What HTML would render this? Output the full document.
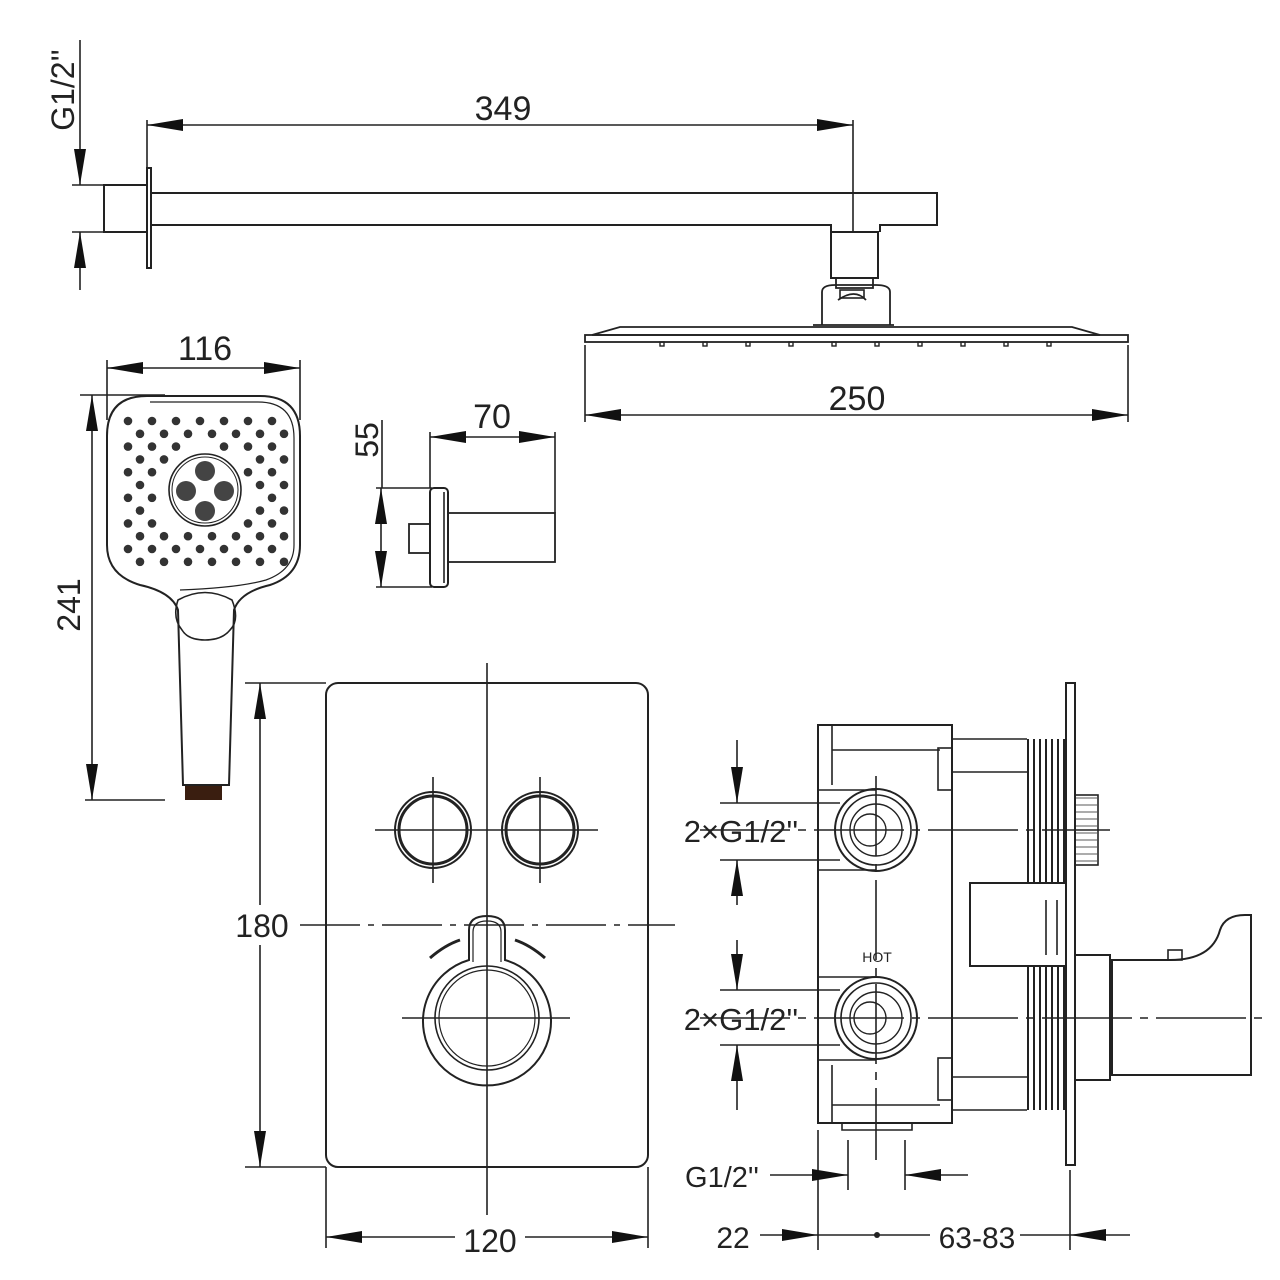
<!DOCTYPE html>
<html><head><meta charset="utf-8"><style>
html,body{margin:0;padding:0;background:#fff;}
svg{display:block;}
text{font-family:"Liberation Sans",sans-serif;fill:#222;}
</style></head><body>
<svg id="s" width="1280" height="1280" viewBox="0 0 1280 1280" xmlns="http://www.w3.org/2000/svg">
<defs>
<marker id="a" viewBox="0 0 36 12" refX="36" refY="6" markerWidth="36" markerHeight="12" markerUnits="userSpaceOnUse" orient="auto-start-reverse"><path d="M0,0 L36,6 L0,12 Z" fill="#111"/></marker>
</defs>
<g stroke="#222" stroke-width="1.6" fill="none">
<line x1="80" y1="40" x2="80" y2="185" marker-end="url(#a)"/>
<line x1="80" y1="290" x2="80" y2="232" marker-end="url(#a)"/>
<line x1="72" y1="185" x2="104" y2="185"/><line x1="72" y1="232" x2="104" y2="232"/>
<rect x="104" y="185" width="43" height="47" stroke-width="2"/>
<rect x="147" y="168" width="4" height="100" stroke-width="2"/>
<path d="M151,193 H937 V225 H880 V232 M831,232 V225 H151" stroke-width="2"/>
<rect x="831" y="232" width="47" height="46" stroke-width="2"/>
<path d="M836,278 V288 H873 V278 M822,325 V292 Q822,285 835,285 H876 Q890,285 890,292 V325 M838,300 Q855,288 866,300" stroke-width="1.8"/>
<rect x="840" y="290" width="24" height="8"/>
<path d="M813,325 H894 M620,327 H1072 L1100,335 H592 Z" stroke-width="1.8"/>
<rect x="585" y="335" width="543" height="7" stroke-width="1.8"/>
<line x1="147" y1="125" x2="853" y2="125" marker-start="url(#a)" marker-end="url(#a)"/>
<line x1="853" y1="120" x2="853" y2="232"/>
<line x1="147" y1="120" x2="147" y2="168"/>
<line x1="585" y1="345" x2="585" y2="422"/><line x1="1128" y1="345" x2="1128" y2="422"/>
<line x1="585" y1="415" x2="1128" y2="415" marker-start="url(#a)" marker-end="url(#a)"/>
<line x1="107" y1="360" x2="107" y2="420"/><line x1="300" y1="360" x2="300" y2="420"/>
<line x1="107" y1="368" x2="300" y2="368" marker-start="url(#a)" marker-end="url(#a)"/>
<line x1="80" y1="395" x2="165" y2="395"/><line x1="85" y1="800" x2="165" y2="800"/>
<line x1="92" y1="395" x2="92" y2="800" marker-start="url(#a)" marker-end="url(#a)"/>
<path d="M147,396 H260 Q300,396 300,436 V545 Q300,575 270,585 Q240,592 234,610 L229,785 H183 L178,610 Q172,592 140,585 Q107,575 107,545 V436 Q107,396 147,396 Z" stroke-width="2"/>
<path d="M150,402 H258 Q294,402 294,438 V545 Q294,570 266,580 Q238,588 180,590" stroke-width="1.2"/>
<path d="M178,600 Q205,585 232,600 Q240,620 230,630 Q222,640 205,640 Q188,640 182,630 Q172,618 178,600 Z" stroke-width="1.6"/>
<rect x="185" y="786" width="37" height="14" fill="#3a1e10" stroke="none"/>
<circle cx="205" cy="490" r="36" stroke-width="1.6"/>
<circle cx="205" cy="490" r="33" stroke-width="1"/>
<line x1="382" y1="420" x2="382" y2="488"/>
<line x1="376" y1="488" x2="432" y2="488"/><line x1="376" y1="587" x2="432" y2="587"/>
<line x1="381" y1="488" x2="381" y2="587" marker-start="url(#a)" marker-end="url(#a)"/>
<line x1="430" y1="432" x2="430" y2="488"/><line x1="555" y1="432" x2="555" y2="513"/>
<line x1="430" y1="437" x2="555" y2="437" marker-start="url(#a)" marker-end="url(#a)"/>
<rect x="430" y="488" width="18" height="99" rx="4" stroke-width="2"/>
<line x1="444" y1="492" x2="444" y2="583"/>
<rect x="409" y="524" width="21" height="29" stroke-width="1.8"/>
<rect x="448" y="513" width="107" height="49" stroke-width="1.8"/>
<rect x="326" y="683" width="322" height="484" rx="12" stroke-width="2"/>
<line x1="487" y1="663" x2="487" y2="1215"/>
<line x1="245" y1="683" x2="326" y2="683"/><line x1="245" y1="1167" x2="326" y2="1167"/>
<line x1="260" y1="683" x2="260" y2="1167" marker-start="url(#a)" marker-end="url(#a)"/>
<line x1="300" y1="925" x2="675" y2="925" stroke-dasharray="60,8,6,8"/>
<circle cx="433" cy="830" r="38" stroke-width="2"/><circle cx="433" cy="830" r="34" stroke-width="3"/>
<circle cx="540" cy="830" r="38" stroke-width="2"/><circle cx="540" cy="830" r="34" stroke-width="3"/>
<line x1="375" y1="830" x2="598" y2="830"/>
<line x1="433" y1="777" x2="433" y2="883"/><line x1="540" y1="777" x2="540" y2="883"/>
<path d="M469,960 V930 Q469,916 487,916 Q505,916 505,930 V960 A64,64 0 1 1 469,960 Z" stroke-width="2"/>
<path d="M473,962 V932 Q473,921 487,921 Q501,921 501,932 V962" stroke-width="1.2"/>
<circle cx="487" cy="1018" r="52" stroke-width="1.6"/><circle cx="487" cy="1018" r="48" stroke-width="1.2"/>
<path d="M430,958 Q445,945 460,940 M515,940 Q530,945 545,958" stroke-width="3"/>
<line x1="402" y1="1018" x2="570" y2="1018"/>
<line x1="326" y1="1167" x2="326" y2="1248"/><line x1="648" y1="1167" x2="648" y2="1248"/>
<line x1="326" y1="1237" x2="648" y2="1237" marker-start="url(#a)" marker-end="url(#a)"/>
<rect x="818" y="725" width="134" height="398" stroke-width="2"/>
<path d="M832,725 V785 M832,1065 V1123 M832,750 H940 M832,1105 H940" stroke-width="1.6"/>
<rect x="938" y="748" width="14" height="42" stroke-width="1.6"/><rect x="938" y="1058" width="14" height="42" stroke-width="1.6"/>
<path d="M818,790 H876 M818,870 H876 M818,977 H876 M818,1060 H876" stroke-width="1.6"/>
<path d="M952,739 H1027 M952,772 H1027 M952,1077 H1027 M952,1110 H1027" stroke-width="1.6"/>
<rect x="970" y="883" width="96" height="83" stroke-width="2"/>
<rect x="1066" y="683" width="9" height="482" stroke-width="2"/>
<rect x="1075" y="795" width="23" height="70" stroke-width="1.6"/>
<path d="M1075,955 H1110 V1080 H1075 M1112,960 H1170 Q1212,960 1220,930 Q1225,915 1245,915 H1251 V1075 H1112 Z" stroke-width="2"/>
<rect x="1168" y="950" width="14" height="10"/>
<line x1="1046" y1="900" x2="1046" y2="955"/><line x1="1057" y1="900" x2="1057" y2="955"/>
<line x1="700" y1="830" x2="1110" y2="830" stroke-dasharray="90,8,8,8"/>
<line x1="700" y1="1018" x2="1262" y2="1018" stroke-dasharray="90,8,8,8"/>
<line x1="876" y1="776" x2="876" y2="1160" stroke-dasharray="80,8,8,8"/>
<g id="rib" stroke-width="2"></g>
<circle cx="876" cy="830" r="41" stroke-width="2"/><circle cx="876" cy="830" r="35" stroke-width="1.6"/><circle cx="876" cy="830" r="26" stroke-width="1.4"/><circle cx="870" cy="830" r="16" stroke-width="1.4"/>
<circle cx="876" cy="1018" r="41" stroke-width="2"/><circle cx="876" cy="1018" r="35" stroke-width="1.6"/><circle cx="876" cy="1018" r="26" stroke-width="1.4"/><circle cx="870" cy="1018" r="16" stroke-width="1.4"/>
<path d="M842,1123 V1130 H912 V1123" stroke-width="1.6"/>
<line x1="720" y1="803" x2="840" y2="803"/><line x1="720" y1="860" x2="840" y2="860"/>
<line x1="737" y1="740" x2="737" y2="803" marker-end="url(#a)"/><line x1="737" y1="905" x2="737" y2="860" marker-end="url(#a)"/>
<line x1="720" y1="990" x2="840" y2="990"/><line x1="720" y1="1045" x2="840" y2="1045"/>
<line x1="737" y1="940" x2="737" y2="990" marker-end="url(#a)"/><line x1="737" y1="1110" x2="737" y2="1045" marker-end="url(#a)"/>
<line x1="818" y1="1130" x2="818" y2="1250"/><line x1="848" y1="1140" x2="848" y2="1190"/><line x1="905" y1="1140" x2="905" y2="1190"/>
<line x1="1070" y1="1170" x2="1070" y2="1250"/>
<line x1="770" y1="1175" x2="848" y2="1175" marker-end="url(#a)"/><line x1="968" y1="1175" x2="905" y2="1175" marker-end="url(#a)"/>
<line x1="760" y1="1235" x2="818" y2="1235" marker-end="url(#a)"/><line x1="1130" y1="1235" x2="1070" y2="1235" marker-end="url(#a)"/>
<line x1="818" y1="1235" x2="930" y2="1235"/><line x1="1020" y1="1235" x2="1070" y2="1235"/>
</g>
<circle cx="877" cy="1235" r="3" fill="#222"/>
<g id="dots" fill="#333"></g>
<g fill="#444"><circle cx="205" cy="471" r="10"/><circle cx="186" cy="491" r="10"/><circle cx="224" cy="491" r="10"/><circle cx="205" cy="511" r="10"/></g>
<g fill="#fff"><rect x="225" y="905" width="70" height="40"/><rect x="455" y="1222" width="70" height="36"/><rect x="706" y="1222" width="54" height="36"/><rect x="930" y="1222" width="90" height="36"/></g>
<text x="503" y="120" font-size="34" text-anchor="middle">349</text>
<text x="857" y="410" font-size="34" text-anchor="middle">250</text>
<text x="205" y="360" font-size="34" text-anchor="middle">116</text>
<text x="492" y="428" font-size="34" text-anchor="middle">70</text>
<text x="262" y="937" font-size="32" text-anchor="middle">180</text>
<text x="490" y="1252" font-size="32" text-anchor="middle">120</text>
<text x="733" y="1248" font-size="30" text-anchor="middle">22</text>
<text x="977" y="1248" font-size="30" text-anchor="middle">63-83</text>
<text x="741" y="842" font-size="31" text-anchor="middle">2×G1/2''</text>
<text x="741" y="1030" font-size="31" text-anchor="middle">2×G1/2''</text>
<text x="722" y="1187" font-size="29" text-anchor="middle">G1/2''</text>
<text x="877" y="962" font-size="14" text-anchor="middle">HOT</text>
<text transform="translate(74,90) rotate(-90)" font-size="32" text-anchor="middle">G1/2''</text>
<text transform="translate(80,605) rotate(-90)" font-size="32" text-anchor="middle">241</text>
<text transform="translate(378,440) rotate(-90)" font-size="32" text-anchor="middle">55</text>
</svg>
<script>
var ns="http://www.w3.org/2000/svg";
var d=document.getElementById("dots");
for(var r=0;r<12;r++){var y=421+r*12.8;var off=(r%2)?12:0;
for(var x=128+off;x<290;x+=24){var dx=x-205,dy=y-490;if(dx*dx+dy*dy<46*46)continue;
var c=document.createElementNS(ns,"circle");c.setAttribute("cx",x);c.setAttribute("cy",y);c.setAttribute("r",4.3);d.appendChild(c);}}
var g=document.getElementById("rib");
for(var i=0;i<7;i++){var x=1028+i*6;
[[739,884],[966,1110]].forEach(function(p){var l=document.createElementNS(ns,"line");l.setAttribute("x1",x);l.setAttribute("x2",x);l.setAttribute("y1",p[0]);l.setAttribute("y2",p[1]);g.appendChild(l);});}
for(var j=0;j<10;j++){var y=798+j*7;var l=document.createElementNS(ns,"line");l.setAttribute("x1",1076);l.setAttribute("x2",1097);l.setAttribute("y1",y);l.setAttribute("y2",y);l.setAttribute("stroke-width","0.8");g.appendChild(l);}
for(var n=0;n<10;n++){var r2=document.createElementNS(ns,"rect");r2.setAttribute("x",660+n*43);r2.setAttribute("y",342);r2.setAttribute("width",4);r2.setAttribute("height",4);r2.setAttribute("stroke-width","1.4");g.appendChild(r2);}
</script>
</body></html>
